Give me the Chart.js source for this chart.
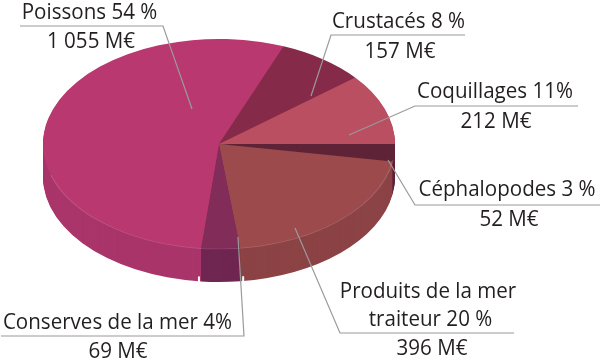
<!DOCTYPE html>
<html>
<head>
<meta charset="utf-8">
<script src="https://cdn.jsdelivr.net/npm/chart.js@4"></script>
<style>
html, body { margin: 0; background: #fff; }
#c { display: block; }
</style>
</head>
<body>
<canvas id="c" width="600" height="364"></canvas>
<script>
// clockwise from the east edge of the pie
var categories = ['Céphalopodes', 'Produits de la mer traiteur', 'Conserves de la mer', 'Poissons', 'Crustacés', 'Coquillages'];
var values = [52, 396, 69, 1055, 157, 212];

var topColors = ['#5f2337', '#9d4a4d', '#822c5a', '#b9386f', '#852a49', '#b94f60'];
var sideColors = ['#5f2337', '#8c4345', '#6f2650', '#a9356a', '#74253f', '#a04653'];

// text lines + rule + leader, laid out by hand like the print original
var callouts = [
    { lines: [['Poissons 54 %', 89.5, 19], ['1 055 M€', 91, 48]], path: [[20, 26], [163, 26], [192, 109]] },
    { lines: [['Crustacés 8 %', 398.5, 28], ['157 M€', 400, 58]], path: [[465, 35], [331, 35], [311, 96]] },
    { lines: [['Coquillages 11%', 495, 98], ['212 M€', 496, 128]], path: [[578, 106], [415, 106], [349, 135]] },
    { lines: [['Céphalopodes 3 %', 507, 196], ['52 M€', 509, 226]], path: [[600, 205], [415, 205], [388, 160]] },
    { lines: [['Produits de la mer', 428, 298], ['traiteur 20 %', 430.5, 326], ['396 M€', 432, 355]], path: [[514, 333], [340, 333], [295, 228]] },
    { lines: [['Conserves de la mer 4%', 117.5, 329], ['69 M€', 118, 358]], path: [[1, 336], [244, 336], [238, 237]] }
];

var pieCy = 144, squash = 105 / 176, depth = 33, textSqueeze = 0.935;

function wedge(ctx, arc) {
    ctx.beginPath();
    ctx.moveTo(arc.x, arc.y);
    ctx.arc(arc.x, arc.y, arc.outerRadius, arc.startAngle, arc.endAngle);
    ctx.closePath();
}

var tilted = {
    id: 'tilted',
    beforeDatasetsDraw: function(chart) {
        var ctx = chart.ctx, arcs = chart.getDatasetMeta(0).data, a0 = arcs[0];
        ctx.save();
        ctx.translate(a0.x, pieCy);
        ctx.scale(1, squash);
        ctx.translate(-a0.x, -a0.y);
        // rim: stack of wedges, lowest first
        for (var d = depth; d > 0; d--) {
            ctx.save();
            ctx.translate(0, d / squash);
            arcs.forEach(function(arc, i) {
                wedge(ctx, arc);
                ctx.fillStyle = sideColors[i];
                ctx.fill();
            });
            ctx.restore();
        }
    },
    afterDatasetsDraw: function(chart) {
        var ctx = chart.ctx, arcs = chart.getDatasetMeta(0).data;
        // pale front edge of the top face
        ctx.beginPath();
        ctx.arc(arcs[0].x, arcs[0].y, arcs[0].outerRadius, 0.15, Math.PI - 0.3);
        ctx.strokeStyle = 'rgba(255,255,255,0.16)';
        ctx.lineWidth = 1.2;
        ctx.stroke();
        ctx.restore();

        // notches in the rim either side of the small front slice
        var a = arcs[2], ry = a.outerRadius * squash;
        ctx.strokeStyle = '#fff';
        ctx.lineWidth = 2;
        [[a.startAngle, 3], [a.endAngle, -2]].forEach(function(s) {
            var x = a.x + a.outerRadius * Math.cos(s[0]) + s[1];
            var y = pieCy + ry * Math.sin(s[0]) + depth;
            ctx.beginPath();
            ctx.moveTo(x, y - 5);
            ctx.lineTo(x, y + 1);
            ctx.stroke();
        });

        ctx.lineJoin = 'miter';
        ctx.strokeStyle = '#9a9a9a';
        ctx.lineWidth = 1.2;
        ctx.fillStyle = '#231f20';
        ctx.font = '22px "Open Sans"';
        ctx.textAlign = 'center';
        ctx.textBaseline = 'alphabetic';
        callouts.forEach(function(c) {
            ctx.beginPath();
            c.path.forEach(function(p, i) {
                if (i) ctx.lineTo(p[0], p[1]); else ctx.moveTo(p[0], p[1]);
            });
            ctx.stroke();
            c.lines.forEach(function(l) {
                ctx.save();
                ctx.translate(l[1], l[2]);
                ctx.scale(textSqueeze, 1);
                ctx.fillText(l[0], 0, 0);
                ctx.restore();
            });
        });
    }
};

new Chart(document.getElementById('c'), {
    type: 'pie',
    data: {
        labels: categories,
        datasets: [{
            data: values,
            backgroundColor: topColors,
            borderWidth: 0
        }]
    },
    options: {
        animation: false,
        responsive: false,
        rotation: 90,
        layout: { padding: { left: 43, right: 205, top: 6, bottom: 6 } },
        plugins: { legend: { display: false }, tooltip: { enabled: false } }
    },
    plugins: [tilted]
});
</script>
</body>
</html>
